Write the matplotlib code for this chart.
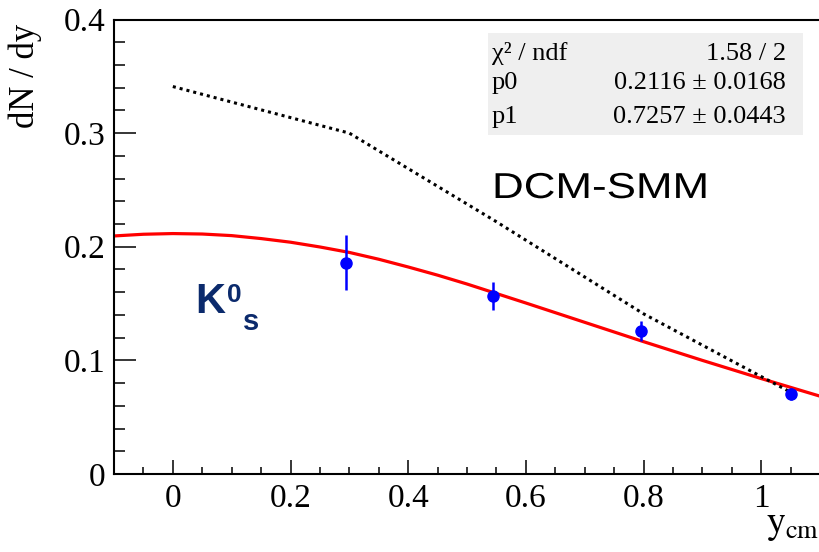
# -*- coding: utf-8 -*-
"""
K0s rapidity distribution dN/dy vs y_cm
with gaussian fit (red) and DCM-SMM model (dotted)
"""

import matplotlib
matplotlib.use("Agg")
import matplotlib.pyplot as plt
from matplotlib.patches import Rectangle, PathPatch
from matplotlib.textpath import TextPath
from matplotlib.font_manager import FontProperties
from matplotlib.transforms import Affine2D
from matplotlib.ticker import MultipleLocator

# -----------------------------
# Data
# -----------------------------
# measured points
pt_x = [0.295, 0.545, 0.795, 1.05]
pt_y = [0.186, 0.157, 0.126, 0.0705]
pt_err = [0.024, 0.0123, 0.009, 0.005]

# fit curve (red)
fit_x = [-0.1, -0.05, 0.0, 0.05, 0.1, 0.15, 0.2, 0.25, 0.3, 0.35, 0.4,
         0.45, 0.5, 0.6, 0.7, 0.8, 0.9, 1.0, 1.1]
fit_y = [0.2095, 0.2110, 0.2116, 0.2112, 0.2098, 0.2072, 0.2040, 0.1998,
         0.1950, 0.1890, 0.1822, 0.1750, 0.1672, 0.1505, 0.1335, 0.1165,
         0.1000, 0.0840, 0.0685]

# DCM-SMM model (dotted)
dcm_x = [0.0, 0.3, 0.55, 0.8, 1.05]
dcm_y = [0.341, 0.300, 0.222, 0.141, 0.072]

# tick labels
xticks = [0, 0.2, 0.4, 0.6, 0.8, 1.0]
xtick_labels = ["0", "0.2", "0.4", "0.6", "0.8", "1"]
yticks = [0, 0.1, 0.2, 0.3, 0.4]
ytick_labels = ["0", "0.1", "0.2", "0.3", "0.4"]

# fit statistics box
stat_names = ["χ² / ndf", "p0", "p1"]
stat_values = ["1.58 / 2", "0.2116 ± 0.0168", "0.7257 ± 0.0443"]

# -----------------------------
# Figure setup (pixel based layout)
# -----------------------------
plt.rcParams['mathtext.fontset'] = 'stix'
W, H = 819, 552
serif = 'Liberation Serif'
sans = 'Liberation Sans'
navy = '#0b2a6c'


def fx(x):
    return x / W


def fy(y):
    return 1 - y / H


fig = plt.figure(figsize=(W / 100, H / 100), dpi=100)
ax = fig.add_axes([fx(114), fy(474), (820 - 114) / W, (474 - 19.5) / H])

# curves and points
ax.plot(fit_x, fit_y, color='red', linewidth=2.3, zorder=2)
ax.plot(dcm_x, dcm_y, color='black', linewidth=2.2,
        linestyle=(0, (1, 1.3)), zorder=3)
ax.errorbar(pt_x, pt_y, yerr=pt_err, fmt='o', color='blue', markersize=8,
            elinewidth=1.8, capsize=0, zorder=4)

ax.set_xlim(-0.1, 1.1)
ax.set_ylim(0, 0.4)

# ROOT-like axes
ax.spines['right'].set_visible(False)
for s in ['left', 'bottom', 'top']:
    ax.spines[s].set_linewidth(1.5)

ax.set_xticks(xticks)
ax.set_xticklabels(xtick_labels, fontfamily=serif, fontsize=24)
ax.set_yticks(yticks)
ax.set_yticklabels(ytick_labels, fontfamily=serif, fontsize=24)
ax.xaxis.set_minor_locator(MultipleLocator(0.05))
ax.yaxis.set_minor_locator(MultipleLocator(0.02))
ax.tick_params(axis='x', which='major', direction='in', length=10, width=1.1, pad=7)
ax.tick_params(axis='x', which='minor', direction='in', length=5, width=1.1)
ax.tick_params(axis='y', which='major', direction='in', length=16, width=1.1, pad=6)
ax.tick_params(axis='y', which='minor', direction='in', length=8, width=1.1)

# axis titles
fig.text(fx(25), fy(24), "dN / dy", rotation=90, ha='center', va='top',
         fontfamily=serif, fontsize=25)
fig.text(fx(819), fy(533), r"$\mathrm{y}_{\mathrm{cm}}$", ha='right',
         va='baseline', fontsize=27)

# -----------------------------
# Statistics box
# -----------------------------
fig.add_artist(Rectangle((fx(488), fy(135)), (803 - 488) / W, (135 - 33) / H,
                         transform=fig.transFigure, facecolor='#efefef',
                         edgecolor='none', zorder=1))
row_base = [60, 89, 123]
for name, val, yb in zip(stat_names, stat_values, row_base):
    fig.text(fx(492), fy(yb), name, ha='left', va='baseline',
             fontfamily=serif, fontsize=19, zorder=2)
    fig.text(fx(786), fy(yb), val, ha='right', va='baseline',
             fontfamily=serif, fontsize=19, zorder=2)

# -----------------------------
# Labels drawn on the plot
# -----------------------------
# DCM-SMM label is horizontally stretched in the original
tp = TextPath((0, 0), "DCM-SMM", size=36, prop=FontProperties(family=sans))
tr = Affine2D().scale(1.22, 1.0).translate(492, H - 198)
fig.add_artist(PathPatch(tp, transform=tr, facecolor='black',
                         edgecolor='none', zorder=2))

# K0s label
fig.text(fx(195), fy(313), "K", ha='left', va='baseline', fontfamily=sans,
         fontweight='bold', fontsize=30, color=navy)
fig.text(fx(227), fy(302), "0", ha='left', va='baseline', fontfamily=sans,
         fontweight='bold', fontsize=19, color=navy)
fig.text(fx(243), fy(330), "s", ha='left', va='baseline', fontfamily=sans,
         fontweight='bold', fontsize=21, color=navy)

fig.savefig("out.png", dpi=100)
